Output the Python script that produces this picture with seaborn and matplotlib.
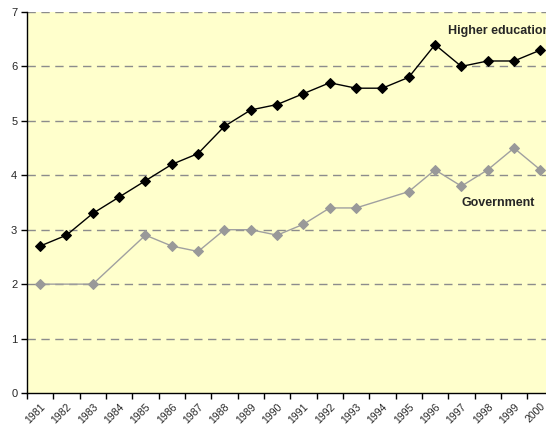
import matplotlib
matplotlib.use('Agg')
import matplotlib.pyplot as plt
import numpy as np
import pandas as pd
import seaborn as sns

# Dados
anos = list(range(1981, 2001))
ensino_superior = [2.7, 2.9, 3.3, 3.6, 3.9, 4.2, 4.4, 4.9, 5.2, 5.3,
                   5.5, 5.7, 5.6, 5.6, 5.8, 6.4, 6.0, 6.1, 6.1, 6.3]
governo = [2.0, np.nan, 2.0, np.nan, 2.9, 2.7, 2.6, 3.0, 3.0, 2.9,
           3.1, 3.4, 3.4, np.nan, 3.7, 4.1, 3.8, 4.1, 4.5, 4.1]

df = pd.DataFrame({'ano': anos, 'superior': ensino_superior, 'governo': governo})

sns.set_style('white')
plt.rcParams['font.family'] = ['Liberation Sans', 'DejaVu Sans']

fig = plt.figure(figsize=(5.46, 4.30), dpi=100)
ax = fig.add_axes([27 / 546, 37 / 430, 526.5 / 546, 381 / 430])
ax.set_facecolor('#FFFFCC')

sns.lineplot(data=df.dropna(subset=['governo']), x='ano', y='governo', ax=ax,
             color='#A0A0A0', marker='D', markersize=5, linewidth=1,
             markeredgecolor='#999999', markerfacecolor='#999999')
sns.lineplot(data=df, x='ano', y='superior', ax=ax,
             color='black', marker='D', markersize=5, linewidth=1,
             markeredgecolor='black', markerfacecolor='black')

ax.set_xlim(1980.5, 2000.5)
ax.set_ylim(0, 7)
ax.set_yticks(range(0, 8))
ax.set_xticks(anos)
ax.set_xticklabels([str(a) for a in anos], rotation=45, ha='right',
                   rotation_mode='anchor', fontsize=7.5)
ax.set_xticks(np.arange(1980.5, 2001, 1), minor=True)
ax.tick_params(axis='x', which='major', length=0, pad=6)
ax.tick_params(axis='x', which='minor', length=4, width=1, color='black',
               direction='out', bottom=True)
ax.tick_params(axis='y', length=4, width=1, color='black', direction='out',
               left=True, labelsize=8, pad=3)
ax.set_xlabel('')
ax.set_ylabel('')

for y in range(1, 8):
    ax.axhline(y, color='#8C8C8C', linestyle=(0, (6, 4)), linewidth=1, zorder=0)

for lado in ['top', 'right']:
    ax.spines[lado].set_visible(False)
for lado in ['left', 'bottom']:
    ax.spines[lado].set_color('black')
    ax.spines[lado].set_linewidth(1)

ax.text(1996.5, 6.65, 'Higher education', fontsize=9, fontweight='bold',
        ha='left', va='center')
ax.text(1997.0, 3.5, 'Government', fontsize=9, fontweight='bold',
        ha='left', va='center')

fig.savefig('out.png', dpi=100)
